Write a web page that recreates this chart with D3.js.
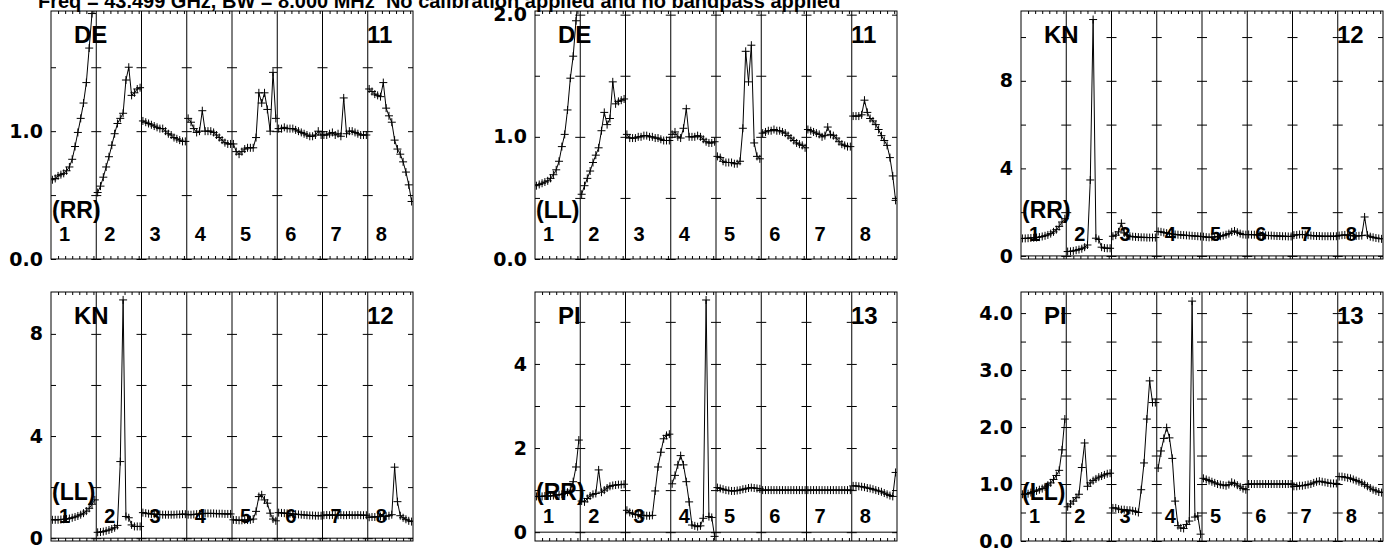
<!DOCTYPE html>
<html>
<head>
<meta charset="utf-8">
<script src="https://cdn.jsdelivr.net/npm/d3@7"></script>
<style>
  body { margin: 0; background: #fff; }
  svg text { font-family: "Liberation Sans", Arial, Helvetica, sans-serif; font-weight: bold; }
</style>
</head>
<body>
<div id="chart"></div>
<script>

// plotted channels inside each IF (every second channel of 32)
var channels = [1,3,5,7,9,11,13,15,17,19,21,23,25,27,29,31];
var chanTicks = [5,10,15,20,25,30];
var ifLabels = ["1","2","3","4","5","6","7","8"];

var antennas = ["DE","DE","KN","KN","PI","PI"];
var pols = ["(RR)","(LL)","(RR)","(LL)","(RR)","(LL)"];
var baselineNums = ["11","11","12","12","13","13"];
var titleText = "Freq = 43.499 GHz, BW = 8.000 MHz  No calibration applied and no bandpass applied";

var yDomains = [[0,1.94],[0,2.03],[-0.14,11.19],[-0.11,9.64],[-0.21,5.71],[0,4.37]];
var yTicks = [
  [0,0.5,1,1.5],
  [0,0.5,1,1.5,2],
  [0,2,4,6,8,10],
  [0,2,4,6,8],
  [0,1,2,3,4,5],
  [0,0.5,1,1.5,2,2.5,3,3.5,4]
];
var yLabelTicks = [[0,1],[0,1,2],[0,4,8],[0,4,8],[0,2,4],[0,1,2,3,4]];
var yFormats = [".1f",".1f","d","d","d",".1f"];

// amplitude per IF (8 IFs x 16 channels)
var deRR = [
  [0.62,0.63,0.65,0.66,0.67,0.69,0.72,0.78,0.88,0.99,1.10,1.22,1.38,1.65,1.92,2.20],
  [0.52,0.57,0.64,0.72,0.80,0.89,0.98,1.06,1.10,1.14,1.40,1.50,1.28,1.30,1.33,1.34],
  [1.08,1.07,1.06,1.05,1.04,1.03,1.02,1.02,1.00,0.98,0.97,0.95,0.94,0.93,0.92,0.92],
  [1.10,1.07,1.02,0.99,1.00,1.16,1.00,1.00,1.00,0.99,0.97,0.95,0.93,0.91,0.90,0.90],
  [0.90,0.84,0.82,0.84,0.86,0.87,0.87,0.87,0.95,1.30,1.22,1.30,1.17,1.00,1.46,1.10],
  [1.02,1.02,1.03,1.02,1.02,1.02,1.01,1.00,0.99,0.98,0.97,0.96,0.96,0.97,1.00,0.97],
  [0.97,0.97,0.98,0.99,0.97,0.98,0.96,1.26,0.98,1.00,1.00,0.99,0.98,0.97,0.97,0.97],
  [1.33,1.31,1.29,1.28,1.27,1.38,1.18,1.12,1.07,0.93,0.86,0.82,0.76,0.68,0.58,0.45]
];
var deLL = [
  [0.60,0.61,0.62,0.63,0.64,0.66,0.69,0.73,0.80,0.92,1.02,1.22,1.48,1.66,1.95,2.20],
  [0.53,0.60,0.66,0.72,0.79,0.85,0.91,1.05,1.20,1.10,1.15,1.45,1.27,1.29,1.30,1.31],
  [1.02,0.99,0.99,0.99,1.00,1.00,1.01,1.01,1.00,1.00,0.99,0.99,0.98,0.97,0.97,0.97],
  [1.02,1.04,1.00,0.99,1.07,1.23,1.00,1.00,1.00,1.01,1.00,0.98,0.96,0.95,0.95,0.96],
  [0.84,0.83,0.80,0.79,0.79,0.79,0.78,0.78,0.80,1.07,1.70,1.45,1.75,0.95,0.84,0.82],
  [1.03,1.04,1.05,1.05,1.06,1.05,1.05,1.04,1.03,1.01,0.99,0.97,0.95,0.94,0.93,0.91],
  [1.06,1.05,1.04,1.03,1.02,1.00,1.01,1.08,1.02,1.01,0.99,0.96,0.94,0.93,0.92,0.92],
  [1.17,1.17,1.17,1.18,1.30,1.20,1.15,1.13,1.10,1.06,1.01,0.97,0.93,0.83,0.68,0.48]
];
var knRR = [
  [0.80,0.80,0.81,0.82,0.83,0.84,0.86,0.89,0.92,0.96,1.02,1.10,1.20,1.35,1.55,1.70],
  [0.20,0.21,0.23,0.26,0.29,0.33,0.40,0.50,3.47,10.8,0.81,0.75,0.40,0.36,0.35,0.35],
  [0.90,0.95,1.10,1.49,1.05,0.95,0.90,0.88,0.87,0.86,0.85,0.85,0.84,0.84,0.84,0.84],
  [1.12,1.10,1.07,1.04,1.02,1.00,0.98,0.97,0.96,0.95,0.94,0.93,0.92,0.91,0.90,0.89],
  [0.88,0.86,0.85,0.86,0.87,0.88,0.90,0.93,0.97,1.02,1.10,1.14,1.08,1.02,0.98,0.97],
  [0.98,0.97,0.97,0.96,0.95,0.95,0.94,0.93,0.93,0.92,0.91,0.91,0.90,0.90,0.89,0.89],
  [0.95,0.96,0.98,0.98,0.97,0.95,0.93,0.92,0.91,0.91,0.90,0.90,0.90,0.90,0.90,0.90],
  [0.93,0.95,0.96,0.95,0.93,0.92,0.91,0.92,0.93,1.78,0.95,0.88,0.85,0.82,0.80,0.78]
];
var knLL = [
  [0.72,0.72,0.72,0.73,0.74,0.75,0.77,0.80,0.83,0.87,0.92,0.98,1.06,1.17,1.33,1.50],
  [0.23,0.24,0.26,0.29,0.32,0.36,0.41,0.50,3.00,9.33,0.85,0.80,0.52,0.46,0.46,0.46],
  [1.00,0.98,0.96,0.95,0.94,0.93,0.93,0.92,0.92,0.92,0.92,0.92,0.93,0.93,0.94,0.94],
  [0.92,0.92,0.93,0.94,0.95,0.96,0.97,0.97,0.97,0.97,0.96,0.96,0.96,0.95,0.95,0.95],
  [0.72,0.71,0.70,0.70,0.71,0.71,0.72,0.75,1.05,1.63,1.70,1.50,1.37,0.98,0.75,0.68],
  [1.00,0.99,0.98,0.97,0.96,0.95,0.94,0.93,0.92,0.91,0.90,0.89,0.89,0.88,0.88,0.88],
  [0.90,0.91,0.90,0.91,0.90,0.90,0.91,0.90,0.90,0.91,0.90,0.90,0.91,0.90,0.90,0.90],
  [0.82,0.83,0.83,0.84,0.85,0.85,0.86,0.88,0.92,2.78,1.43,0.88,0.80,0.74,0.68,0.65]
];
var piRR = [
  [0.85,0.85,0.85,0.86,0.86,0.86,0.87,0.88,0.89,0.90,0.92,0.95,1.00,1.20,1.55,2.19],
  [0.74,0.72,0.80,0.86,0.90,0.92,1.48,0.95,1.00,1.05,1.09,1.11,1.12,1.13,1.13,1.14],
  [0.52,0.47,0.44,0.42,0.41,0.40,0.40,0.39,0.39,0.40,0.98,1.55,1.90,2.22,2.30,2.33],
  [1.15,1.35,1.60,1.82,1.60,1.20,0.72,0.17,0.15,0.13,0.15,0.33,5.52,0.37,0.35,-0.10],
  [1.06,1.04,1.02,1.00,0.99,0.98,0.98,0.99,1.00,1.02,1.03,1.05,1.06,1.05,1.04,1.03],
  [1.00,1.00,1.00,1.00,1.00,1.00,1.00,1.00,1.00,1.00,1.00,1.00,1.00,1.00,1.00,1.00],
  [1.00,1.00,1.00,1.00,1.00,1.00,1.00,1.00,1.00,1.00,1.00,1.00,1.00,1.00,1.00,1.00],
  [1.10,1.10,1.09,1.08,1.07,1.05,1.04,1.02,1.00,0.98,0.96,0.93,0.90,0.87,0.85,1.42]
];
var piLL = [
  [0.82,0.82,0.83,0.85,0.87,0.88,0.90,0.92,0.95,0.98,1.02,1.08,1.15,1.24,1.60,2.14],
  [0.60,0.65,0.70,0.76,0.82,1.29,1.72,0.96,1.02,1.06,1.09,1.12,1.14,1.16,1.18,1.19],
  [0.58,0.58,0.56,0.55,0.55,0.54,0.54,0.53,0.52,0.50,0.90,1.37,2.14,2.81,2.43,2.43],
  [1.28,1.58,1.80,1.99,1.81,1.45,0.70,0.27,0.23,0.22,0.29,0.35,4.21,0.42,0.44,0.12],
  [1.10,1.08,1.06,1.04,1.02,1.00,0.99,0.98,0.97,0.99,1.03,1.01,0.98,0.95,0.92,0.90],
  [1.00,1.00,1.00,1.00,1.00,1.00,1.00,1.00,1.00,1.00,1.00,1.00,1.00,1.00,1.00,1.00],
  [0.96,0.96,0.97,0.97,0.98,0.99,1.00,1.02,1.04,1.05,1.04,1.03,1.02,1.01,1.01,1.01],
  [1.13,1.13,1.12,1.11,1.10,1.08,1.06,1.04,1.02,0.99,0.96,0.93,0.90,0.88,0.86,0.85]
];

var panelData = [deRR, deLL, knRR, knLL, piRR, piLL];

// layout of the 2 x 3 grid of panels
var layout = {colX: [51, 535, 1021], rowY: [11, 292], width: 362, height: [248, 249], chansPerIF: 32};

/**
 * Build the x and y scale of one panel.
 */
function initializeScale(i){
    var left = layout.colX[i % 3];
    var row = Math.floor(i / 3);
    var top = layout.rowY[row];
    var h = layout.height[row];
    var x = d3.scaleLinear()
              .domain([0, ifLabels.length * layout.chansPerIF])
              .range([left, left + layout.width]);
    var y = d3.scaleLinear()
              .domain(yDomains[i])
              .range([top + h, top]);
    return {xScale: x, yScale: y, left: left, top: top, h: h};
}

/**
 * Frame, IF separators, tick marks and tick labels of one panel.
 */
function addFrame(g, i, s){
    var x = s.xScale, y = s.yScale;
    var right = s.left + layout.width, bottom = s.top + s.h;

    g.append("rect")
        .attr("x", s.left).attr("y", s.top)
        .attr("width", layout.width).attr("height", s.h)
        .attr("fill", "none").attr("stroke", "#000");

    // IF separators
    for (var k = 1; k < ifLabels.length; k++){
        g.append("line")
            .attr("x1", x(k * layout.chansPerIF)).attr("x2", x(k * layout.chansPerIF))
            .attr("y1", s.top).attr("y2", bottom)
            .attr("stroke", "#000");
    }

    // zero line when the axis starts below zero
    if (yDomains[i][0] < 0){
        g.append("line")
            .attr("x1", s.left).attr("x2", right)
            .attr("y1", y(0)).attr("y2", y(0))
            .attr("stroke", "#000");
    }

    // inward y ticks on every IF boundary
    for (var b = 0; b <= ifLabels.length; b++){
        var xb = x(b * layout.chansPerIF);
        if (b < ifLabels.length){
            g.append("g").attr("transform", "translate(" + xb + ",0)")
                .call(d3.axisRight(y).tickValues(yTicks[i]).tickSize(5).tickFormat(""))
                .call(function(a){ a.select(".domain").remove(); });
        }
        if (b > 0){
            g.append("g").attr("transform", "translate(" + xb + ",0)")
                .call(d3.axisLeft(y).tickValues(yTicks[i]).tickSize(5).tickFormat(""))
                .call(function(a){ a.select(".domain").remove(); });
        }
    }

    // channel ticks on top and bottom
    var chanPos = [];
    for (var k2 = 0; k2 < ifLabels.length; k2++){
        for (const c of chanTicks) chanPos.push(k2 * layout.chansPerIF + c);
    }
    g.append("g").attr("transform", "translate(0," + s.top + ")")
        .call(d3.axisBottom(x).tickValues(chanPos).tickSize(3).tickFormat(""))
        .call(function(a){ a.select(".domain").remove(); });
    g.append("g").attr("transform", "translate(0," + bottom + ")")
        .call(d3.axisTop(x).tickValues(chanPos).tickSize(3).tickFormat(""))
        .call(function(a){ a.select(".domain").remove(); });

    // y labels
    g.append("g").attr("transform", "translate(" + s.left + ",0)")
        .call(d3.axisLeft(y).tickValues(yLabelTicks[i]).tickFormat(d3.format(yFormats[i])).tickSize(0).tickPadding(8))
        .call(function(a){
            a.select(".domain").remove();
            a.selectAll("text")
                .attr("fill", "#000")
                .style("font-size", "19px")
                .style("font-family", '"DejaVu Sans", "Liberation Sans", sans-serif')
                .style("font-weight", "bold");
        });
}

/**
 * Draw the amplitude spectra (line + cross markers) IF by IF.
 */
function displaySpectra(g, i, s){
    var x = s.xScale, y = s.yScale;
    var clipId = "clip" + i;
    g.append("clipPath").attr("id", clipId)
        .append("rect")
        .attr("x", s.left).attr("y", s.top)
        .attr("width", layout.width).attr("height", s.h);

    var plot = g.append("g").attr("clip-path", "url(#" + clipId + ")");
    panelData[i].forEach(function(vals, k){
        var pts = vals.map(function(v, j){ return {ch: k * layout.chansPerIF + channels[j], v: v}; });
        var line = d3.line()
            .x(function(d){ return x(d.ch); })
            .y(function(d){ return y(d.v); });
        plot.append("path")
            .attr("d", line(pts))
            .attr("fill", "none").attr("stroke", "#000").attr("stroke-width", 1);
        plot.selectAll(null)
            .data(pts)
            .enter()
            .append("path")
            .attr("d", function(d){
                var px = x(d.ch), py = y(d.v);
                return "M" + (px - 4) + "," + py + "h8M" + px + "," + (py - 4) + "v8";
            })
            .attr("stroke", "#000").attr("stroke-width", 1);
    });
}

/**
 * Antenna, baseline, polarization and IF number labels.
 */
function addLabels(g, i, s){
    var x = s.xScale, bottom = s.top + s.h;
    g.append("text").attr("x", s.left + 23).attr("y", s.top + 32)
        .style("font-size", "24px").text(antennas[i]);
    g.append("text").attr("x", s.left + 316).attr("y", s.top + 32)
        .style("font-size", "24px").text(baselineNums[i]);
    g.append("text").attr("x", s.left + 1).attr("y", bottom - 41)
        .style("font-size", "23px").text(pols[i]);
    g.selectAll(null)
        .data(ifLabels)
        .enter()
        .append("text")
        .attr("x", function(d, k){ return x(k * layout.chansPerIF) + 8; })
        .attr("y", bottom - 18)
        .style("font-size", "20px")
        .text(function(d){ return d; });
}

var svg = d3.select("#chart")
    .append("svg")
    .attr("width", 1390)
    .attr("height", 554);

svg.append("text")
    .attr("x", 38).attr("y", 8)
    .attr("xml:space", "preserve")
    .style("white-space", "pre")
    .style("font-size", "20px")
    .text(titleText);

for (var i = 0; i < panelData.length; i++){
    var scales = initializeScale(i);
    var g = svg.append("g");
    addFrame(g, i, scales);
    displaySpectra(g, i, scales);
    addLabels(g, i, scales);
}
</script>
</body>
</html>
